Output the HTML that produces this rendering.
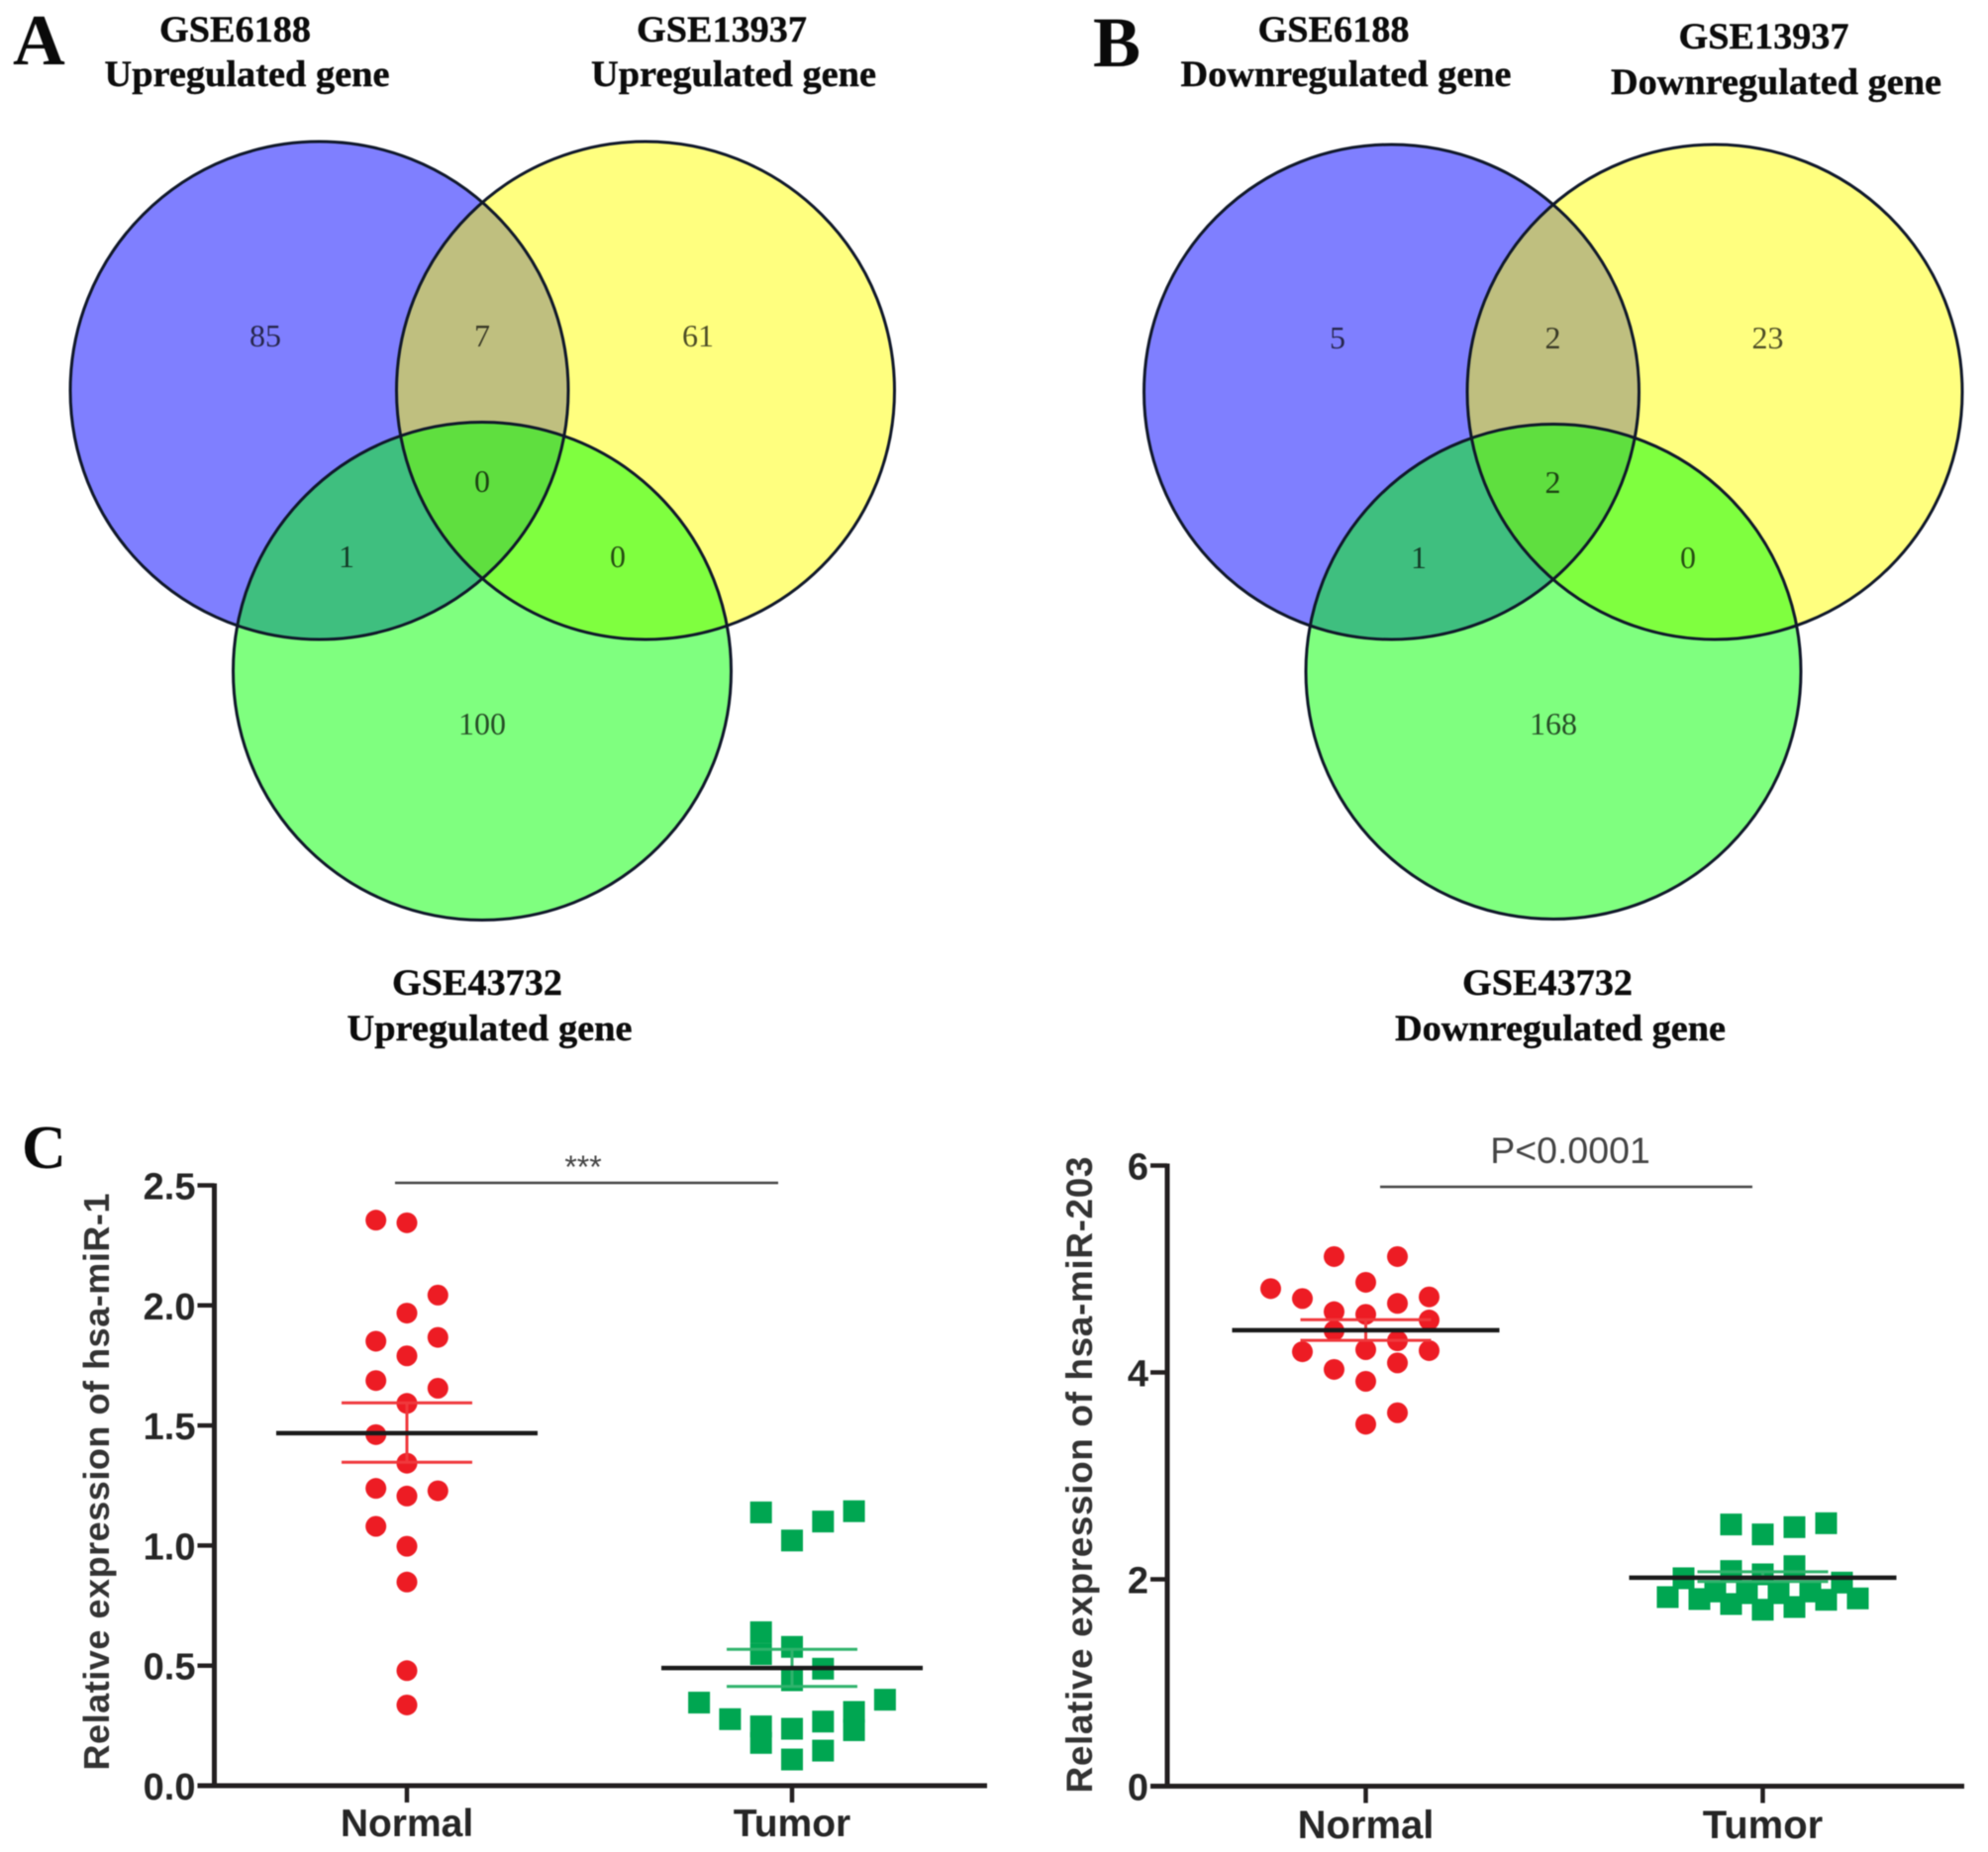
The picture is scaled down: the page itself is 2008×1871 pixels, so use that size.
<!DOCTYPE html>
<html lang="en">
<head>
<meta charset="utf-8">
<title>Venn diagrams and miRNA expression</title>
<style>
  html, body { margin: 0; padding: 0; background: #ffffff; }
  svg { display: block; filter: blur(0.6px); }
  .title { font-family: "Liberation Serif", serif; font-weight: 700; font-size: 37px; fill: #0c0c0c; text-anchor: middle; stroke: #0c0c0c; stroke-width: 0.4px; }
  .panel { font-family: "Liberation Serif", serif; font-weight: 700; fill: #0a0a0a; }
  .count { font-family: "Liberation Serif", serif; font-size: 32px; fill: #000000; fill-opacity: 0.7; text-anchor: middle; }
</style>
</head>
<body>
<svg id="figure" xmlns="http://www.w3.org/2000/svg" width="2008" height="1871" viewBox="0 0 2008 1871">
  <rect x="0" y="0" width="2008" height="1871" fill="#ffffff"/>

  <g>
    <text class="panel" x="13" y="65" font-size="73">A</text>
    <circle cx="322.5" cy="394.5" r="251.5" fill="#0000ff" fill-opacity="0.5"/>
    <circle cx="652" cy="394.5" r="251.5" fill="#ffff00" fill-opacity="0.5"/>
    <circle cx="487" cy="678" r="251.5" fill="#00ff00" fill-opacity="0.5"/>
    <circle cx="322.5" cy="394.5" r="251.5" fill="none" stroke="#10182a" stroke-width="3"/>
    <circle cx="652" cy="394.5" r="251.5" fill="none" stroke="#10182a" stroke-width="3"/>
    <circle cx="487" cy="678" r="251.5" fill="none" stroke="#10182a" stroke-width="3"/>
    <text class="count" x="268" y="350">85</text>
    <text class="count" x="487" y="350">7</text>
    <text class="count" x="705" y="350">61</text>
    <text class="count" x="487" y="497">0</text>
    <text class="count" x="350" y="573">1</text>
    <text class="count" x="624" y="573">0</text>
    <text class="count" x="487" y="742">100</text>
    <text class="title" x="237.5" y="42" textLength="153" lengthAdjust="spacingAndGlyphs">GSE6188</text>
    <text class="title" x="249.5" y="87" textLength="288" lengthAdjust="spacingAndGlyphs">Upregulated gene</text>
    <text class="title" x="729" y="42" textLength="172" lengthAdjust="spacingAndGlyphs">GSE13937</text>
    <text class="title" x="741" y="87" textLength="288" lengthAdjust="spacingAndGlyphs">Upregulated gene</text>
    <text class="title" x="482" y="1005" textLength="172" lengthAdjust="spacingAndGlyphs">GSE43732</text>
    <text class="title" x="494.5" y="1051" textLength="288" lengthAdjust="spacingAndGlyphs">Upregulated gene</text>
  </g>

  <g>
    <text class="panel" x="1104" y="67" font-size="72">B</text>
    <circle cx="1405.5" cy="396" r="250" fill="#0000ff" fill-opacity="0.5"/>
    <circle cx="1732" cy="396" r="250" fill="#ffff00" fill-opacity="0.5"/>
    <circle cx="1569" cy="678.5" r="250" fill="#00ff00" fill-opacity="0.5"/>
    <circle cx="1405.5" cy="396" r="250" fill="none" stroke="#10182a" stroke-width="3"/>
    <circle cx="1732" cy="396" r="250" fill="none" stroke="#10182a" stroke-width="3"/>
    <circle cx="1569" cy="678.5" r="250" fill="none" stroke="#10182a" stroke-width="3"/>
    <text class="count" x="1351" y="352">5</text>
    <text class="count" x="1568.5" y="352">2</text>
    <text class="count" x="1785.5" y="352">23</text>
    <text class="count" x="1568.5" y="498">2</text>
    <text class="count" x="1433" y="574">1</text>
    <text class="count" x="1705" y="574">0</text>
    <text class="count" x="1569" y="742">168</text>
    <text class="title" x="1347" y="42" textLength="153" lengthAdjust="spacingAndGlyphs">GSE6188</text>
    <text class="title" x="1359.5" y="87" textLength="334" lengthAdjust="spacingAndGlyphs">Downregulated gene</text>
    <text class="title" x="1781.5" y="49" textLength="172" lengthAdjust="spacingAndGlyphs">GSE13937</text>
    <text class="title" x="1794" y="95" textLength="334" lengthAdjust="spacingAndGlyphs">Downregulated gene</text>
    <text class="title" x="1563" y="1005" textLength="172" lengthAdjust="spacingAndGlyphs">GSE43732</text>
    <text class="title" x="1576" y="1051" textLength="334" lengthAdjust="spacingAndGlyphs">Downregulated gene</text>
  </g>

  <text class="panel" x="22" y="1180" font-size="62">C</text>
  <g id="chart-mir1"></g>
  <g id="chart-mir203"></g>
</svg>

<script>
// Shared category labels
const categories = ['Normal', 'Tumor'];

// hsa-miR-1 data
const mir1Ticks = [0, 0.5, 1, 1.5, 2, 2.5];
const mir1TickLabels = ['0.0', '0.5', '1.0', '1.5', '2.0', '2.5'];
const mir1NormalValues = [2.355, 2.344, 2.043, 1.968, 1.851, 1.867, 1.79, 1.687, 1.655, 1.592, 1.462, 1.343, 1.238, 1.228, 1.206, 1.08, 0.997, 0.848, 0.479, 0.336];
const mir1NormalSlots = [-1, 0, 1, 0, -1, 1, 0, -1, 1, 0, -1, 0, -1, 1, 0, -1, 0, 0, 0, 0];
const mir1TumorValues = [1.138, 1.143, 1.1, 1.021, 0.639, 0.578, 0.548, 0.487, 0.439, 0.358, 0.346, 0.277, 0.307, 0.267, 0.247, 0.237, 0.231, 0.178, 0.146, 0.109];
const mir1TumorSlots = [-1, 2, 1, 0, -1, 0, -1, 1, 0, 3, -3, -2, 2, 1, -1, 0, 2, -1, 1, 0];
const mir1Means = [1.468, 0.49];
const mir1Upper = [1.594, 0.568];
const mir1Lower = [1.347, 0.413];

// hsa-miR-203 data
const mir203Ticks = [0, 2, 4, 6];
const mir203TickLabels = ['0', '2', '4', '6'];
const mir203NormalValues = [5.12, 5.12, 4.871, 4.81, 4.73, 4.714, 4.667, 4.587, 4.561, 4.507, 4.402, 4.306, 4.2, 4.22, 4.211, 4.092, 4.029, 3.914, 3.61, 3.499];
const mir203NormalSlots = [-1, 1, 0, -3, 2, -2, 1, -1, 0, 2, -1, 1, -2, 0, 2, 1, -1, 0, 1, 0];
const mir203TumorValues = [2.53, 2.434, 2.504, 2.542, 2.01, 2.08, 2.048, 2.127, 1.968, 1.828, 1.809, 1.761, 1.706, 1.732, 1.802, 1.815, 1.882, 1.866, 1.866, 1.882];
const mir203TumorSlots = [-1, 0, 1, 2, -2.5, -1, 0, 1, 2.5, -3, -2, -1, 0, 1, 2, 3, -1.5, -0.5, 0.5, 1.5];
const mir203Means = [4.408, 2.016];
const mir203Upper = [4.51, 2.073];
const mir203Lower = [4.31, 1.978];

const SVG_NS = 'http://www.w3.org/2000/svg';
const AXIS_COLOR = '#231f20';

function make(parent, tag, attrs, text) {
  const el = document.createElementNS(SVG_NS, tag);
  for (const key in attrs) el.setAttribute(key, attrs[key]);
  if (text !== undefined) el.textContent = text;
  parent.appendChild(el);
  return el;
}

function drawChart(root, layout, ticks, tickLabels, seriesValues, seriesSlots, means, upper, lower) {
  const yScale = function (v) {
    return layout.y0 - (v - ticks[0]) / (ticks[ticks.length - 1] - ticks[0]) * (layout.y0 - layout.yTop);
  };
  const xScale = function (i) {
    return layout.xCats[i];
  };
  const slotX = function (i, slot) {
    return xScale(i) + slot * layout.slotWidth;
  };

  // Markers
  seriesValues[0].forEach(function (v, k) {
    const dot = make(root, 'circle', { cx: slotX(0, seriesSlots[0][k]), cy: yScale(v), r: 10.5, fill: '#ed1c24' });
    
    
  });
  seriesValues[1].forEach(function (v, k) {
    const sq = make(root, 'rect', { x: slotX(1, seriesSlots[1][k]) - 11, y: yScale(v) - 11, width: 22, height: 22, fill: '#00a651' });
    
    
  });

  // Error bars and means
  const errColors = ['#f0383c', '#2fb36c'];
  categories.forEach(function (cat, i) {
    const cx = xScale(i);
    const stem = make(root, 'line', { x1: cx, x2: cx, y1: yScale(upper[i]), y2: yScale(lower[i]), stroke: errColors[i], 'stroke-width': 3 });
    
    
    const capTop = make(root, 'line', { x1: cx - layout.capHalf, x2: cx + layout.capHalf, y1: yScale(upper[i]), y2: yScale(upper[i]), stroke: errColors[i], 'stroke-width': 3 });
    
    
    const capLow = make(root, 'line', { x1: cx - layout.capHalf, x2: cx + layout.capHalf, y1: yScale(lower[i]), y2: yScale(lower[i]), stroke: errColors[i], 'stroke-width': 3 });
    
    
    const mean = make(root, 'line', { x1: cx - layout.meanHalf, x2: cx + layout.meanHalf, y1: yScale(means[i]), y2: yScale(means[i]), stroke: '#1a1a1a', 'stroke-width': 4.5 });
    
    
  });

  // Axes
  const yAxis = make(root, 'line', { x1: layout.xAxis, x2: layout.xAxis, y1: layout.yTop - 2, y2: layout.y0 + 2, stroke: AXIS_COLOR, 'stroke-width': 5 });
  
  
  const xAxis = make(root, 'line', { x1: layout.xAxis - 17, x2: layout.xEnd, y1: layout.y0, y2: layout.y0, stroke: AXIS_COLOR, 'stroke-width': 5 });
  
  

  ticks.forEach(function (t, i) {
    const y = yScale(t);
    const tick = make(root, 'line', { x1: layout.xAxis - 17, x2: layout.xAxis, y1: y, y2: y, stroke: AXIS_COLOR, 'stroke-width': 4.5 });
    
    
    const label = make(root, 'text', {
      x: layout.xAxis - 19, y: y + 14, 'text-anchor': 'end',
      'font-family': '"Liberation Sans", sans-serif', 'font-weight': 700, 'font-size': 38, fill: '#262626'
    }, tickLabels[i]);
    
    
  });

  categories.forEach(function (cat, i) {
    const x = xScale(i);
    const tick = make(root, 'line', { x1: x, x2: x, y1: layout.y0, y2: layout.y0 + 17, stroke: AXIS_COLOR, 'stroke-width': 4.5 });
    
    
    const label = make(root, 'text', {
      x: x, y: layout.catBaseline, 'text-anchor': 'middle',
      'font-family': '"Liberation Sans", sans-serif', 'font-weight': 700, 'font-size': layout.catSize, fill: '#262626'
    }, cat);
    
    
  });

  // Y axis title
  const title = make(root, 'text', {
    transform: 'translate(' + layout.titleX + ' ' + layout.titleY + ') rotate(-90)',
    'text-anchor': 'middle', 'font-family': '"Liberation Sans", sans-serif', 'font-weight': 700,
    'font-size': layout.titleSize, fill: '#333333', textLength: layout.titleLength, lengthAdjust: 'spacing'
  }, layout.title);
  
  

  // Significance bracket
  const bracket = make(root, 'line', { x1: layout.bracket[0], x2: layout.bracket[1], y1: layout.bracket[2], y2: layout.bracket[2], stroke: '#444444', 'stroke-width': 2.5 });
  
  
  const sig = make(root, 'text', {
    x: layout.sigX, y: layout.sigY, 'text-anchor': 'middle',
    'font-family': '"Liberation Sans", sans-serif', 'font-size': layout.sigSize, fill: '#444444'
  }, layout.sigText);
  
  
}

drawChart(document.getElementById('chart-mir1'), {
  xAxis: 216.5, xEnd: 997, y0: 1804, yTop: 1197.5, xCats: [411, 800], slotWidth: 31.3,
  capHalf: 66, meanHalf: 132, catBaseline: 1855, catSize: 39,
  title: 'Relative expression of hsa-miR-1', titleX: 110, titleY: 1497, titleSize: 36, titleLength: 583,
  bracket: [399, 786, 1195], sigText: '***', sigX: 589, sigY: 1190, sigSize: 32
}, mir1Ticks, mir1TickLabels, [mir1NormalValues, mir1TumorValues], [mir1NormalSlots, mir1TumorSlots], mir1Means, mir1Upper, mir1Lower);

drawChart(document.getElementById('chart-mir203'), {
  xAxis: 1179, xEnd: 1984, y0: 1804.5, yTop: 1177.5, xCats: [1379.5, 1780.5], slotWidth: 32,
  capHalf: 66, meanHalf: 135, catBaseline: 1857, catSize: 40,
  title: 'Relative expression of hsa-miR-203', titleX: 1103, titleY: 1490, titleSize: 37, titleLength: 643,
  bracket: [1394, 1770, 1199], sigText: 'P<0.0001', sigX: 1586, sigY: 1175, sigSize: 37.5
}, mir203Ticks, mir203TickLabels, [mir203NormalValues, mir203TumorValues], [mir203NormalSlots, mir203TumorSlots], mir203Means, mir203Upper, mir203Lower);
</script>
</body>
</html>
